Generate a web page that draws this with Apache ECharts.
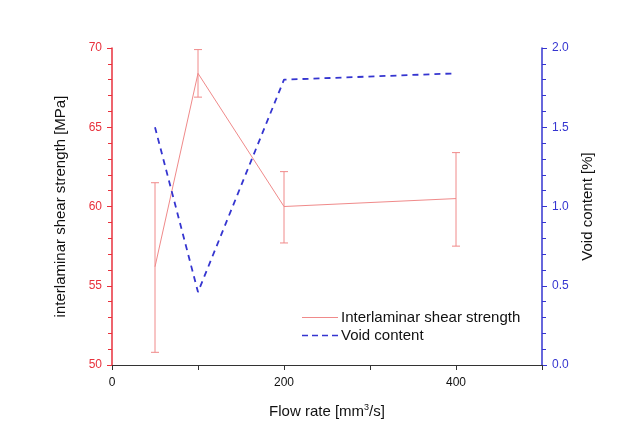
<!DOCTYPE html>
<html>
<head>
<meta charset="utf-8">
<script src="https://cdn.jsdelivr.net/npm/echarts@6/dist/echarts.min.js"></script>
<style>
  html, body { margin: 0; padding: 0; background: #fff; }
  #chart { width: 630px; height: 434px; }
</style>
</head>
<body>
<div id="chart"></div>
<script>
// 数据
var flowRate = [50, 100, 200, 400];
var ilss = [56.2, 68.4, 60.0, 60.5];
var ilssLow = [50.8, 66.9, 57.7, 57.5];
var ilssHigh = [61.5, 69.9, 62.2, 63.4];
var voidContent = [1.5, 0.46, 1.8, 1.84];

var red = '#e8313c';
var blue = '#3535d0';
var pink = '#f08a8a';

var chart = echarts.init(document.getElementById('chart'));

var pts = function (ys) {
  return flowRate.map(function (x, i) { return [x, ys[i]]; });
};

var option = {
  backgroundColor: '#fff',
  textStyle: { fontFamily: 'Liberation Sans, Arial, sans-serif' },
  grid: { left: 112, right: 88, top: 48, bottom: 69 },
  legend: {
    left: 297, top: 305, orient: 'vertical', itemGap: 3,
    itemWidth: 36, itemHeight: 12,
    textStyle: { fontSize: 15, color: '#111', padding: [0, 0, 0, -2] },
    data: [
      { name: 'Interlaminar shear strength', icon: 'path://M0,5 L36,5 L36,6 L0,6 Z' },
      { name: 'Void content', icon: 'path://M0,5 L6,5 L6,6.6 L0,6.6 Z M10,5 L16,5 L16,6.6 L10,6.6 Z M20,5 L26,5 L26,6.6 L20,6.6 Z M30,5 L36,5 L36,6.6 L30,6.6 Z' }
    ]
  },
  xAxis: {
    type: 'value', min: 0, max: 500, interval: 100,
    name: 'Flow rate [mm{s|3}/s]',
    nameLocation: 'middle', nameGap: 38,
    nameTextStyle: { fontSize: 15, color: '#111', rich: { s: { fontSize: 9, verticalAlign: 'top', padding: [0, 0, 8, 0] } } },
    axisLine: { lineStyle: { color: '#333', width: 1 } },
    axisTick: { inside: false, length: 5, lineStyle: { color: '#333' } },
    axisLabel: {
      fontSize: 12, color: '#111', margin: 12,
      formatter: function (v) { return (v % 200 === 0 && v < 500) ? String(v) : ''; }
    },
    splitLine: { show: false }
  },
  yAxis: [
    {
      type: 'value', min: 50, max: 70, interval: 5, position: 'left',
      name: 'interlaminar shear strength [MPa]',
      nameLocation: 'middle', nameGap: 44,
      nameTextStyle: { fontSize: 15, color: '#111' },
      axisLine: { show: true, lineStyle: { color: red, width: 1.5 } },
      axisTick: { show: true, length: 5, lineStyle: { color: red } },
      minorTick: { show: true, splitNumber: 5, length: 4, lineStyle: { color: red } },
      axisLabel: { fontSize: 12, color: red, margin: 10 },
      splitLine: { show: false }
    },
    {
      type: 'value', min: 0, max: 2, interval: 0.5, position: 'right',
      name: 'Void content [%]',
      nameLocation: 'middle', nameGap: 38,
      nameTextStyle: { fontSize: 15, color: '#111' },
      axisLine: { show: true, lineStyle: { color: blue, width: 1.5 } },
      axisTick: { show: true, length: 5, lineStyle: { color: blue } },
      minorTick: { show: true, splitNumber: 5, length: 4, lineStyle: { color: blue } },
      axisLabel: { fontSize: 12, color: blue, margin: 10, formatter: function (v) { return v.toFixed(1); } },
      splitLine: { show: false }
    }
  ],
  series: [
    {
      name: 'Interlaminar shear strength',
      type: 'line', yAxisIndex: 0, symbol: 'none',
      lineStyle: { color: pink, width: 1 },
      itemStyle: { color: pink },
      data: pts(ilss), z: 3
    },
    {
      name: 'error',
      type: 'custom', yAxisIndex: 0,
      data: flowRate.map(function (x, i) { return [x, ilssLow[i], ilssHigh[i]]; }),
      renderItem: function (params, api) {
        var lo = api.coord([api.value(0), api.value(1)]);
        var hi = api.coord([api.value(0), api.value(2)]);
        var w = 4;
        var st = { stroke: pink, lineWidth: 1, fill: null };
        return {
          type: 'group',
          children: [
            { type: 'line', shape: { x1: lo[0], y1: lo[1], x2: hi[0], y2: hi[1] }, style: st },
            { type: 'line', shape: { x1: lo[0] - w, y1: lo[1], x2: lo[0] + w, y2: lo[1] }, style: st },
            { type: 'line', shape: { x1: hi[0] - w, y1: hi[1], x2: hi[0] + w, y2: hi[1] }, style: st }
          ]
        };
      },
      z: 3
    },
    {
      name: 'Void content',
      type: 'line', yAxisIndex: 1, symbol: 'none',
      lineStyle: { color: blue, width: 1.8, type: [6, 5] },
      itemStyle: { color: blue },
      data: pts(voidContent), z: 4
    }
  ]
};

option && chart.setOption(option);
</script>
</body>
</html>
